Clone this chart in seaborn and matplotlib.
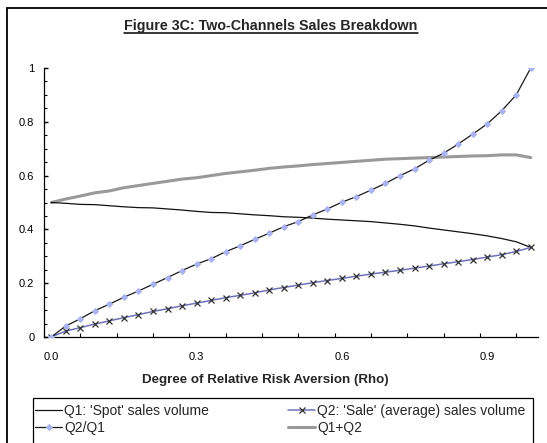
import numpy as np
import pandas as pd
import matplotlib
matplotlib.use("Agg")
import matplotlib.pyplot as plt
from matplotlib.patches import Rectangle
from matplotlib.lines import Line2D
import seaborn as sns

# ---- data ----
rho = [0.00, 0.03, 0.06, 0.09, 0.12, 0.15, 0.18, 0.21, 0.24, 0.27,
       0.30, 0.33, 0.36, 0.39, 0.42, 0.45, 0.48, 0.51, 0.54, 0.57,
       0.60, 0.63, 0.66, 0.69, 0.72, 0.75, 0.78, 0.81, 0.84, 0.87,
       0.90, 0.93, 0.96, 0.99]
q1 = [0.500, 0.497, 0.493, 0.492, 0.488, 0.484, 0.481, 0.480, 0.476, 0.472,
      0.467, 0.463, 0.462, 0.458, 0.454, 0.451, 0.447, 0.445, 0.442, 0.438,
      0.435, 0.432, 0.429, 0.424, 0.419, 0.413, 0.405, 0.398, 0.391, 0.384,
      0.376, 0.366, 0.354, 0.333]
q2 = [0.000, 0.022, 0.035, 0.048, 0.060, 0.072, 0.083, 0.095, 0.105, 0.116,
      0.126, 0.136, 0.146, 0.155, 0.164, 0.175, 0.184, 0.193, 0.202, 0.210,
      0.218, 0.226, 0.234, 0.241, 0.248, 0.256, 0.264, 0.272, 0.280, 0.288,
      0.297, 0.306, 0.318, 0.333]
ratio = [0.000, 0.041, 0.068, 0.098, 0.122, 0.148, 0.171, 0.196, 0.221, 0.247,
         0.271, 0.291, 0.317, 0.339, 0.363, 0.386, 0.410, 0.429, 0.454, 0.476,
         0.501, 0.522, 0.546, 0.571, 0.600, 0.625, 0.657, 0.683, 0.717, 0.754,
         0.792, 0.841, 0.900, 1.000]
total = [0.500, 0.513, 0.524, 0.536, 0.543, 0.555, 0.563, 0.571, 0.579, 0.587,
         0.592, 0.600, 0.608, 0.614, 0.620, 0.627, 0.632, 0.636, 0.641, 0.645,
         0.649, 0.653, 0.657, 0.661, 0.663, 0.665, 0.667, 0.669, 0.671, 0.673,
         0.674, 0.677, 0.677, 0.667]
x_tick_labels = ["0.0", "0.3", "0.6", "0.9"]
x_tick_values = [0.0, 0.3, 0.6, 0.9]
y_tick_values = [0, 0.2, 0.4, 0.6, 0.8, 1.0]
y_tick_labels = ["0", "0.2", "0.4", "0.6", "0.8", "1"]
labels = ["Q1: 'Spot' sales volume", "Q2: 'Sale' (average) sales volume",
          "Q2/Q1", "Q1+Q2"]
title = "Figure 3C: Two-Channels Sales Breakdown"
xlabel = "Degree of Relative Risk Aversion (Rho)"

df = pd.DataFrame({"rho": rho, "q1": q1, "q2": q2, "ratio": ratio, "total": total})

sns.set_style("ticks")
plt.rcParams["font.family"] = ["Liberation Sans", "DejaVu Sans"]

W, H = 547, 443
fig = plt.figure(figsize=(W / 100, H / 100), dpi=100)
fig.patch.set_facecolor("white")

def px(x0, y0):
    return x0 / W, 1 - y0 / H

ax_l, ax_r, ax_t, ax_b = 44, 538, 68, 337
ax = fig.add_axes([ax_l / W, 1 - ax_b / H, (ax_r - ax_l) / W, (ax_b - ax_t) / H])
ax.set_facecolor("white")

sns.lineplot(data=df, x="rho", y="total", ax=ax, color="#999999", lw=2.2,
             label=labels[3], zorder=2)
sns.lineplot(data=df, x="rho", y="q1", ax=ax, color="#111111", lw=0.9,
             label=labels[0], zorder=3)
sns.lineplot(data=df, x="rho", y="q2", ax=ax, color="#6f72b8", lw=1.1,
             marker="x", markersize=4.2, markeredgecolor="#333333",
             markeredgewidth=0.9, label=labels[1], zorder=4)
sns.lineplot(data=df, x="rho", y="ratio", ax=ax, color="#1a1a1a", lw=0.9,
             marker="D", markersize=3.0, markerfacecolor="#aab2f0",
             markeredgecolor="#aab2f0", label=labels[2], zorder=5)

ax.set_xlim(-0.015, 1.005)
ax.set_ylim(0, 1)
for s in ["top", "right"]:
    ax.spines[s].set_visible(False)
for s in ["left", "bottom"]:
    ax.spines[s].set_color("#000000")
    ax.spines[s].set_linewidth(0.9)

ax.set_xticks(x_tick_values)
ax.set_xticklabels(x_tick_labels)
ax.set_xticks([-0.015 + 0.075 * k for k in range(14)], minor=True)
ax.set_yticks(y_tick_values)
ax.set_yticklabels(y_tick_labels)
ax.set_yticks([0.05 * k for k in range(21)], minor=True)
ax.tick_params(which="both", left=True, bottom=True, top=False, right=False)
ax.tick_params(axis="x", which="major", length=0, pad=11, labelsize=8,
               labelcolor="black")
ax.tick_params(axis="x", which="minor", direction="in", length=3, width=0.8,
               color="black")
ax.tick_params(axis="y", which="major", direction="in", length=3.2, width=1.0,
               pad=7, labelsize=8, labelcolor="black", color="black")
ax.tick_params(axis="y", which="minor", direction="in", length=2.4, width=0.8,
               color="black")
ax.set_xlabel("")
ax.set_ylabel("")

handles, labs = ax.get_legend_handles_labels()
ax.get_legend().remove()
hmap = dict(zip(labs, handles))

leg_kw = dict(loc="upper left", frameon=False, fontsize=10, handlelength=1.95,
              handletextpad=0.15, labelspacing=0.2, borderpad=0.0,
              borderaxespad=0.0)
fig.legend([hmap[labels[0]], hmap[labels[2]]], [labels[0], labels[2]],
           bbox_to_anchor=px(35, 404), **leg_kw)
fig.legend([hmap[labels[1]], hmap[labels[3]]], [labels[1], labels[3]],
           bbox_to_anchor=px(288, 404), **leg_kw)

# legend frame
fig.patches.append(Rectangle(px(33, 460), 500 / W, 62 / H, transform=fig.transFigure,
                             fill=False, ec="black", lw=0.9, zorder=1))
# outer chart frame
fig.patches.append(Rectangle(px(7, 470), 560 / W, 462 / H, transform=fig.transFigure,
                             fill=False, ec="black", lw=1.3, zorder=1))

t = fig.text(*px(271, 26), title, ha="center", va="center", fontsize=10.3,
             fontweight="bold")
fig.text(*px(265, 380), xlabel, ha="center", va="center", fontsize=9.6,
         fontweight="bold")

fig.canvas.draw()
bb = t.get_window_extent(renderer=fig.canvas.get_renderer())
uy = 1 - 32.8 / H
fig.add_artist(Line2D([bb.x0 / W, bb.x1 / W], [uy, uy], transform=fig.transFigure,
                      color="black", lw=1.1))

fig.savefig("out.png", dpi=100)
